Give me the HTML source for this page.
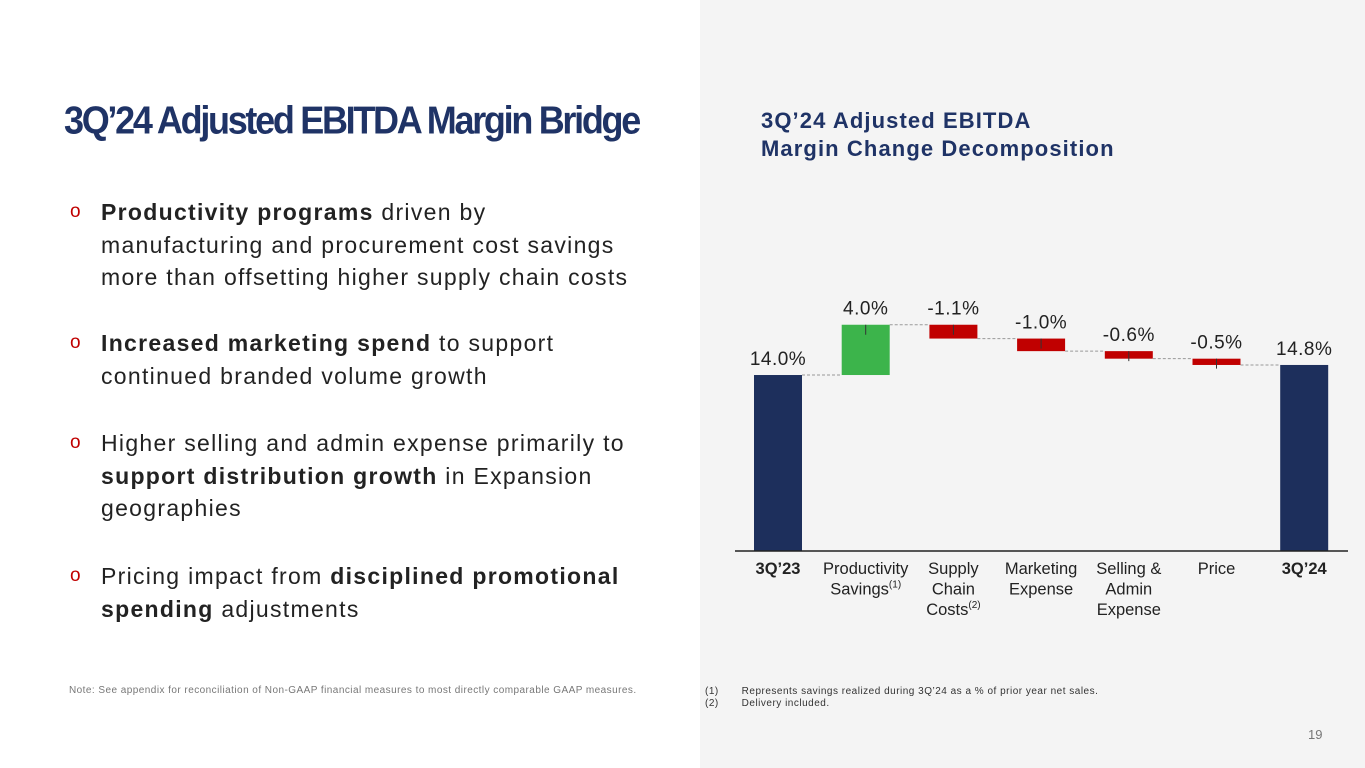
<!DOCTYPE html>
<html><head><meta charset="utf-8"><style>
body{margin:0;width:1365px;height:768px;position:relative;overflow:hidden;background:#fff;font-family:"Liberation Sans",sans-serif;}
#panel{position:absolute;left:700px;top:0;width:665px;height:768px;background:#f4f4f4;}
h1{position:absolute;left:64px;top:98px;margin:0;font-size:36px;letter-spacing:-2.3px;color:#1f3366;font-weight:bold;transform:scaleY(1.08);transform-origin:left top;}
#ctitle{position:absolute;left:761px;top:107px;font-size:22px;font-weight:bold;color:#1f3366;line-height:28px;letter-spacing:1.1px;}
.bul{position:absolute;left:70px;font-size:23px;line-height:32.5px;color:#222;width:620px;letter-spacing:1.3px;white-space:nowrap;}
.bul .o{position:absolute;left:0;top:0;color:#c00000;font-size:19px;letter-spacing:0;}
.bul .t{margin-left:31px;display:block;}
#note{position:absolute;left:69px;top:685px;font-size:10px;color:#777;letter-spacing:0.45px;}
#fn{position:absolute;left:705px;top:686px;font-size:10px;color:#333;line-height:12px;letter-spacing:0.5px;}
#pg{position:absolute;left:1308px;top:727px;font-size:13px;color:#777;}
svg{position:absolute;left:0;top:0;}
</style></head><body>
<div id="panel"></div>
<h1>3Q’24 Adjusted EBITDA Margin Bridge</h1>
<div id="ctitle">3Q’24 Adjusted EBITDA<br>Margin Change Decomposition</div>
<div class="bul" style="top:196px"><span class="o">o</span><span class="t"><b>Productivity programs</b> driven by<br>manufacturing and procurement cost savings<br>more than offsetting higher supply chain costs</span></div>
<div class="bul" style="top:327px"><span class="o">o</span><span class="t"><b>Increased marketing spend</b> to support<br>continued branded volume growth</span></div>
<div class="bul" style="top:427px"><span class="o">o</span><span class="t">Higher selling and admin expense primarily to<br><b>support distribution growth</b> in Expansion<br>geographies</span></div>
<div class="bul" style="top:560px"><span class="o">o</span><span class="t">Pricing impact from <b>disciplined promotional</b><br><b>spending</b> adjustments</span></div>
<div id="note">Note: See appendix for reconciliation of Non-GAAP financial measures to most directly comparable GAAP measures.</div>
<div id="fn">(1)&nbsp;&nbsp;&nbsp;&nbsp;&nbsp;&nbsp;&nbsp;Represents savings realized during 3Q’24 as a % of prior year net sales.<br>(2)&nbsp;&nbsp;&nbsp;&nbsp;&nbsp;&nbsp;&nbsp;Delivery included.</div>
<div id="pg">19</div>
<svg id="chart" width="1365" height="768"></svg>
<script>
const categories=["3Q’23","Productivity|Savings","Supply|Chain|Costs","Marketing|Expense","Selling &|Admin|Expense","Price","3Q’24"];
const sups=["","(1)","(2)","","","",""];
const values=[14.0,4.0,-1.1,-1.0,-0.6,-0.5,14.8];
const labels=["14.0%","4.0%","-1.1%","-1.0%","-0.6%","-0.5%","14.8%"];
const kinds=["total","delta","delta","delta","delta","delta","total"];
const svg=document.getElementById('chart');const NS="http://www.w3.org/2000/svg";
const base=551,ppu=12.57;
const y=v=>base-v*ppu;
const xc=i=>778+i*87.7;
const bw=48;
function mk(t,a,p){const e=document.createElementNS(NS,t);for(const k in a)e.setAttribute(k,a[k]);(p||svg).appendChild(e);return e;}
let cum=0;
values.forEach((v,i)=>{
  let top,bot,color;
  if(kinds[i]=="total"){bot=0;top=v;cum=v;color="#1d2f5c";}
  else{const s=cum;cum+=v;top=Math.max(s,cum);bot=Math.min(s,cum);color=v>=0?"#3cb44b":"#c00000";}
  const r=mk('rect',{x:xc(i)-bw/2,y:y(top),width:bw,height:y(bot)-y(top),fill:color});
  
  
  if(kinds[i]=="delta"){mk('line',{x1:xc(i),x2:xc(i),y1:y(top),y2:y(top)+10,stroke:'#333','stroke-width':1});}
  if(i<values.length-1){mk('line',{x1:xc(i)+bw/2,x2:xc(i+1)-bw/2,y1:y(cum),y2:y(cum),stroke:'#999','stroke-width':1,'stroke-dasharray':'3,2'});}
  const t=mk('text',{x:xc(i),y:y(top)-10,'text-anchor':'middle','font-size':19,fill:'#222','letter-spacing':0.5});
  t.textContent=labels[i];
  
  
  const parts=categories[i].split('|');
  parts.forEach((p,j)=>{
    const tt=mk('text',{x:xc(i),y:574+j*20.5,'text-anchor':'middle','font-size':16.5,fill:'#222','font-weight':kinds[i]=="total"?'bold':'normal'});
    tt.textContent=p;
    if(j==parts.length-1&&sups[i]){const ts=mk('tspan',{'font-size':10,dy:-7},tt);ts.textContent=sups[i];}
    
    
  });
});
const ax=mk('line',{x1:735,x2:1348,y1:base,y2:base,stroke:'#222','stroke-width':1.5});


</script>
</body></html>
